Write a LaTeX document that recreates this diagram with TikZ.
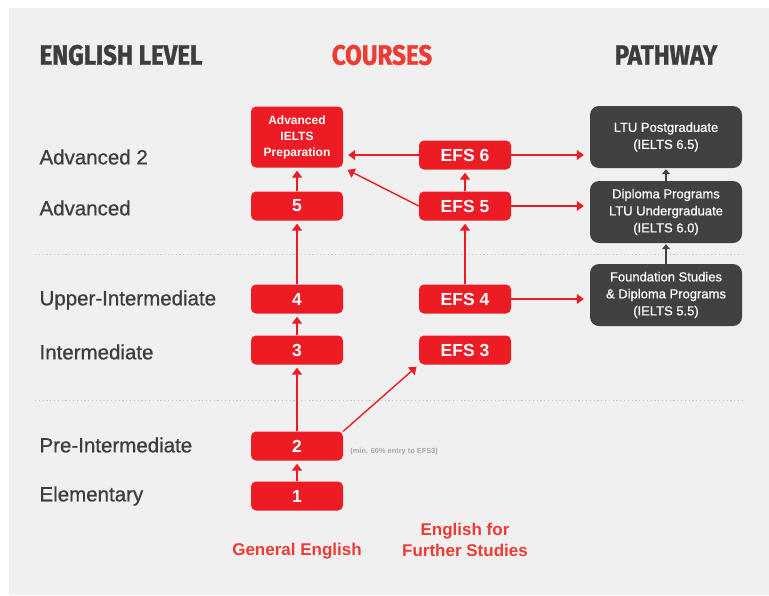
\documentclass[tikz,border=0pt]{standalone}
\usepackage{fontspec}
\setmainfont{Liberation Sans}
\newfontfamily\medfont{Liberation Sans}[FakeBold=0.7]
\newfontfamily\headfont{Fira Sans}[FakeStretch=0.86,FakeBold=1.2]
\usetikzlibrary{arrows.meta,positioning}
\definecolor{efsred}{HTML}{ED1C24}
\definecolor{pathgray}{HTML}{414042}
\definecolor{bggray}{HTML}{F0F0F0}
\definecolor{headgray}{HTML}{3D3D3D}
\definecolor{labred}{HTML}{EE3B33}
\definecolor{notegray}{HTML}{A8A8A8}
\definecolor{dotgray}{HTML}{C4C4C4}

\tikzset{
    head/.style={font=\headfont\fontsize{28}{30}\selectfont\bfseries, text=headgray},
    level/.style={anchor=west, text=headgray, font=\medfont\fontsize{20.5}{24}\selectfont},
    course/.style={fill=efsred, rounded corners=5pt, minimum width=92pt,
        minimum height=29pt, text=white, inner sep=2pt,
        font=\fontsize{17.5}{20}\selectfont\bfseries},
    pathbox/.style={fill=pathgray, rounded corners=9pt, minimum width=152pt,
        minimum height=62pt, text=white, align=center,
        font=\medfont\fontsize{13}{17}\selectfont},
    track/.style={text=labred, align=center, font=\fontsize{17}{21}\selectfont\bfseries},
    uparrow/.style={efsred, line width=1.4pt, shorten >=3pt,
        -{Triangle[width=10pt,length=7pt]}},
    darkarrow/.style={pathgray, line width=1.4pt, shorten >=1pt,
        -{Triangle[width=8pt,length=5pt]}},
    divider/.style={dotgray, line width=1pt, dash pattern=on 1.2pt off 2.6pt}
}

\begin{document}
\begin{tikzpicture}[x=1pt, y=-1pt]
    % Background
    \fill[white] (0,0) rectangle (769,595);
    \fill[bggray] (9,8) rectangle (769,595);
    \useasboundingbox (0,0) rectangle (769,595);

    % Headings
    \node[head] (HeadLevel) at (121,55) {ENGLISH LEVEL};
    \node[head, text=labred] (HeadCourses) at (382,55) {COURSES};
    \node[head] (HeadPathway) at (666,55) {PATHWAY};

    % Dividers
    \draw[divider] (35,254) -- (742,254);
    \draw[divider] (35,400) -- (742,400);

    % English levels
    \node[level] (LvAdvTwo) at (36,157) {Advanced 2};
    \node[level] (LvAdv) at (36,208) {Advanced};
    \node[level] (LvUpper) at (36,300) {Upper-Intermediate};
    \node[level] (LvInter) at (36,352) {Intermediate};
    \node[level] (LvPre) at (36,445) {Pre-Intermediate};
    \node[level] (LvElem) at (36,496) {Elementary};

    % General English
    \node[course] (GE1) at (297,496) {1};
    \node[course] (GE2) at (297,446) {2};
    \node[course] (GE3) at (297,350) {3};
    \node[course] (GE4) at (297,299) {4};
    \node[course] (GE5) at (297,206) {5};
    \node[course, minimum height=61pt, align=center,
        font=\fontsize{12}{16}\selectfont\bfseries
    ] (IELTS) at (297,137) {Advanced\\IELTS\\Preparation};
    \node[right=7pt of GE2, yshift=-6pt, inner sep=0pt, text=notegray,
        font=\fontsize{7.4}{9}\selectfont\bfseries
    ] (Note) {(min. 60\% entry to EFS3)};

    % English for Further Studies
    \node[course] (EFS3) at (465,350) {EFS 3};
    \node[course] (EFS4) at (465,299) {EFS 4};
    \node[course] (EFS5) at (465,206) {EFS 5};
    \node[course] (EFS6) at (465,155) {EFS 6};

    % Pathway
    \node[pathbox] (Found) at (666,295)
        {Foundation Studies\\\& Diploma Programs\\(IELTS 5.5)};
    \node[pathbox] (Diploma) at (666,212)
        {Diploma Programs\\LTU Undergraduate\\(IELTS 6.0)};
    \node[pathbox] (Post) at (666,137)
        {LTU Postgraduate\\(IELTS 6.5)};

    % Track names
    \node[track] (TrackGE) at (297,551) {General English};
    \node[track] (TrackEFS) at (465,540) {English for\\Further Studies};

    % Arrows
    \draw[uparrow] (GE1) -- (GE2);
    \draw[uparrow] (GE2) -- (GE3);
    \draw[uparrow] (GE3) -- (GE4);
    \draw[uparrow] (GE4) -- (GE5);
    \draw[uparrow] (GE5) -- (IELTS);
    \draw[uparrow] (GE2.north east) -- (EFS3.south west);
    \draw[uparrow] (EFS4) -- (EFS5);
    \draw[uparrow] (EFS5) -- (EFS6);
    \draw[uparrow, shorten >=5pt] (EFS6.west) -- (EFS6.west -| IELTS.east);
    \draw[uparrow, shorten >=5pt] (EFS5.west) -- (IELTS.south east);
    \draw[uparrow, shorten >=6pt] (EFS6.east) -- (EFS6.east -| Post.west);
    \draw[uparrow, shorten >=6pt] (EFS5.east) -- (EFS5.east -| Diploma.west);
    \draw[uparrow, shorten >=6pt] (EFS4.east) -- (EFS4.east -| Found.west);
    \draw[darkarrow] (Found) -- (Diploma);
    \draw[darkarrow] (Diploma) -- (Post);

\end{tikzpicture}
\end{document}
